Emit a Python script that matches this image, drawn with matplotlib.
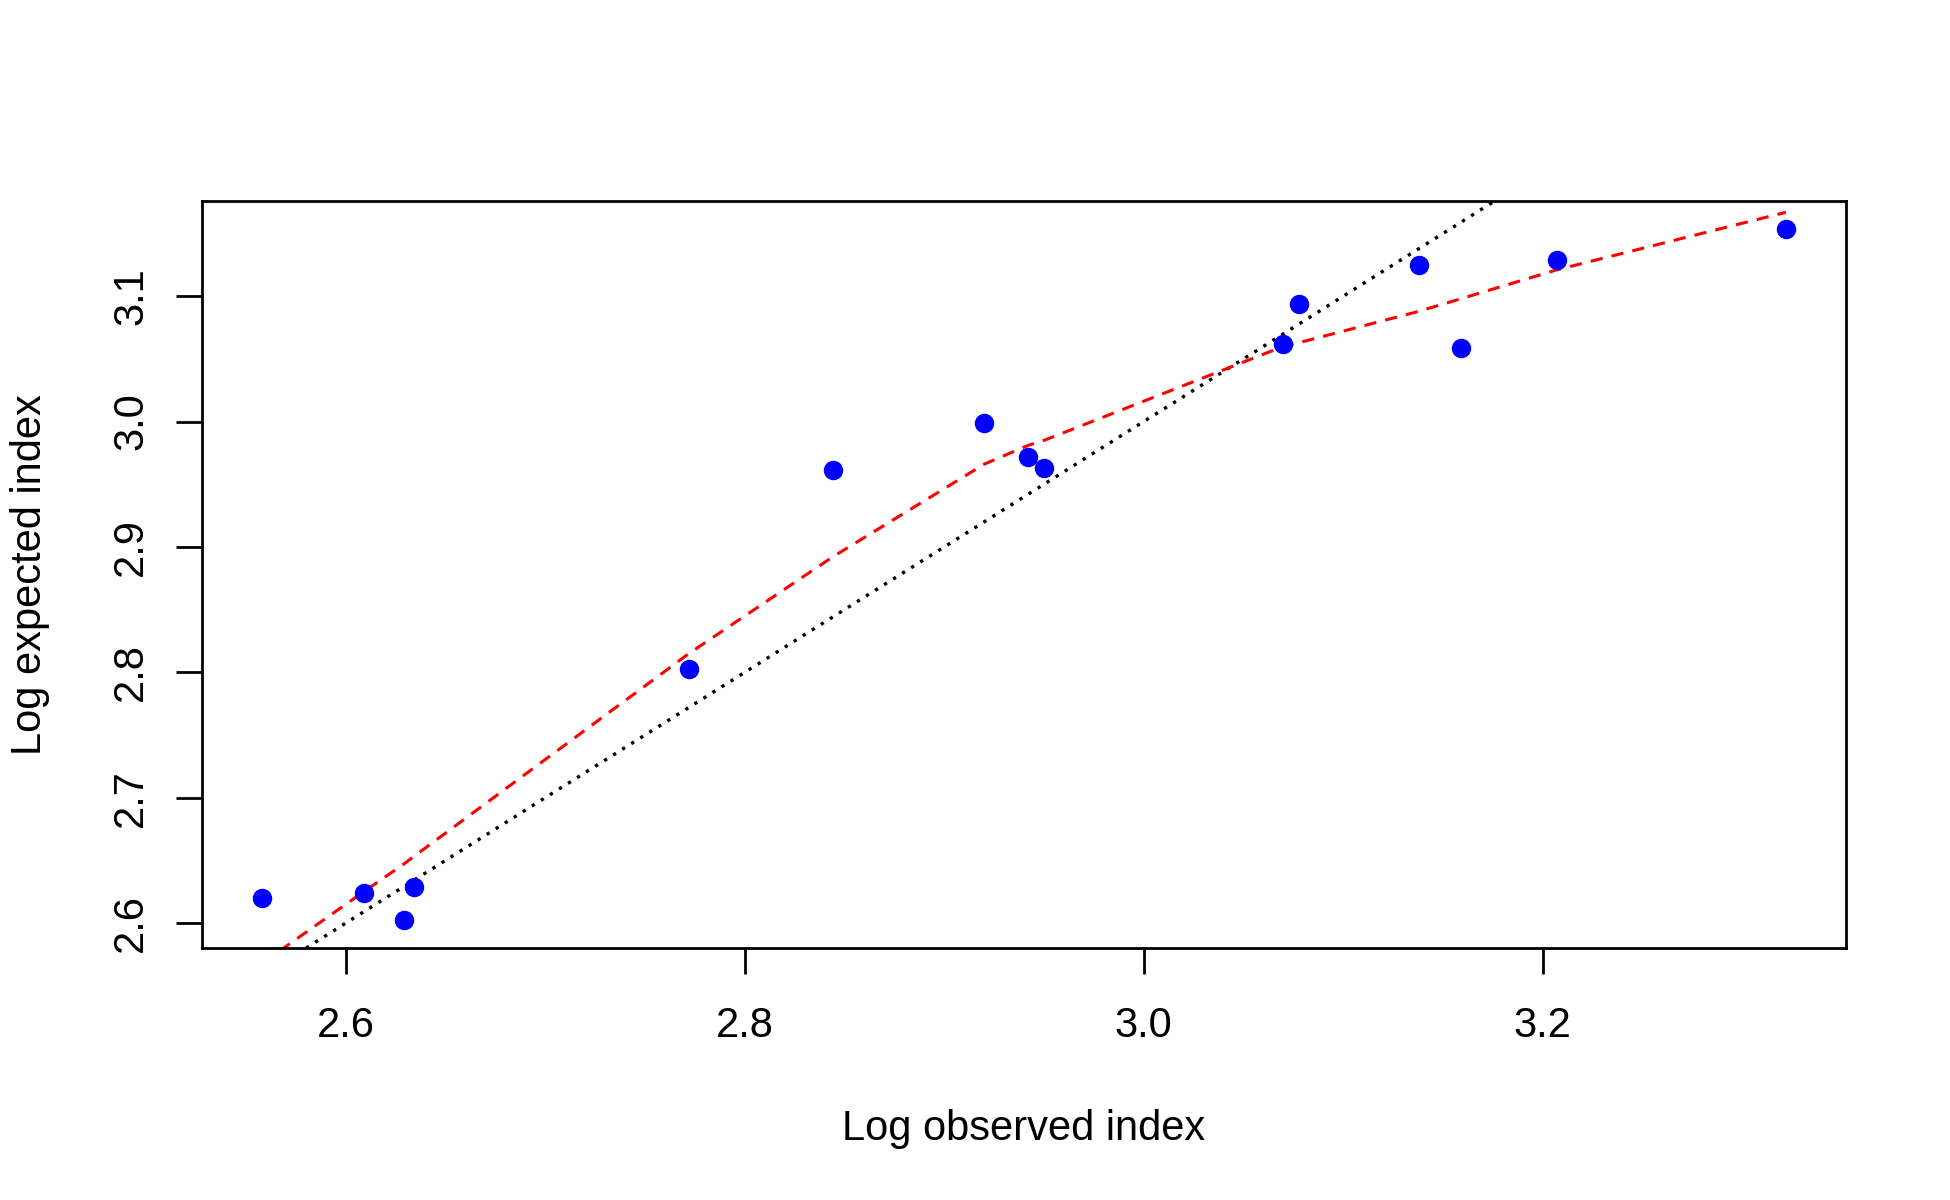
import numpy as np
import matplotlib
matplotlib.use("Agg")
import matplotlib.pyplot as plt

plt.rcParams['font.family'] = ['Liberation Sans', 'DejaVu Sans']

# Observed vs expected (log)
log_obs = [2.558, 2.609, 2.629, 2.634, 2.772, 2.844, 2.920, 2.942, 2.950,
           3.070, 3.078, 3.138, 3.159, 3.207, 3.322]
log_exp = [2.620, 2.624, 2.602, 2.629, 2.803, 2.961, 2.999, 2.972, 2.963,
           3.062, 3.094, 3.125, 3.059, 3.129, 3.154]

# Smoothed fit (red dashed), one value per observed x
fit_y = [2.568, 2.625, 2.647, 2.653, 2.815, 2.892, 2.966, 2.981, 2.985,
         3.060, 3.063, 3.088, 3.098, 3.121, 3.167]

x_ticks = [2.6, 2.8, 3.0, 3.2]
y_ticks = [2.6, 2.7, 2.8, 2.9, 3.0, 3.1]

fig = plt.figure(figsize=(19.5, 12), dpi=100)
ax = fig.add_axes([0.1038, 0.210, 0.8427, 0.6225])

ax.plot(log_obs, log_exp, 'o', color='blue', markersize=13, zorder=3)
ax.axline((2.6, 2.6), slope=1, color='black', linestyle=(0, (1, 2.2)), linewidth=2.4)
ax.plot(log_obs, fit_y, color='red', linestyle=(0, (4, 3)), linewidth=2.2)

ax.set_xlim(2.528, 3.352)
ax.set_ylim(2.580, 3.176)
ax.set_xticks(x_ticks)
ax.set_xticklabels([f"{v:.1f}" for v in x_ticks])
ax.set_yticks(y_ticks)
ax.set_yticklabels([f"{v:.1f}" for v in y_ticks], rotation=90, va='center')

ax.tick_params(axis='both', direction='out', length=19, width=2, labelsize=30, pad=18)
ax.tick_params(axis='x', pad=23)
for s in ax.spines.values():
    s.set_linewidth(2)

ax.set_xlabel("Log observed index", fontsize=30, labelpad=45)
ax.set_ylabel("Log expected index", fontsize=30, labelpad=44)

fig.savefig("out.png", dpi=100, facecolor='white')
